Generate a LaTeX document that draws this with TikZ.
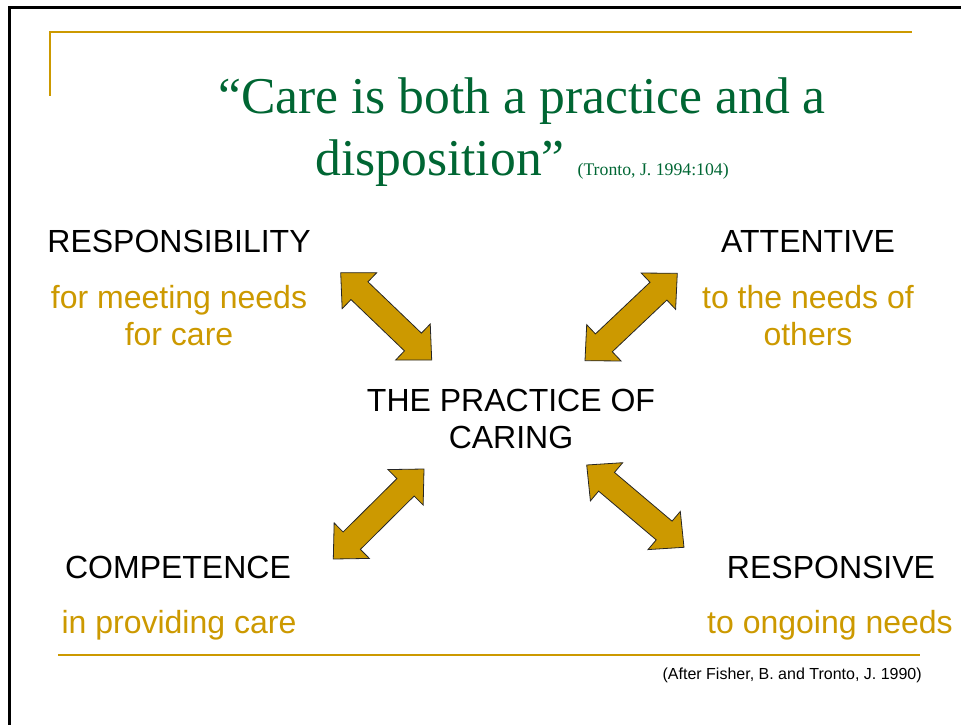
\documentclass[tikz,border=0pt]{standalone}
\usepackage{fontspec}
\setmainfont{Liberation Sans}
\newfontfamily\quotefont{Liberation Serif}
\usetikzlibrary{calc}
\definecolor{caregold}{RGB}{204,153,0}
\definecolor{quotegreen}{RGB}{0,102,51}
\newcommand{\twowayarrow}[2]% first tip, second tip
{(#1) -- ($(#1)!19.5pt!(#2)!18.75pt!90:(#2)$) -- ($(#1)!19.5pt!(#2)!9.2pt!90:(#2)$)
 -- ($(#2)!19.5pt!(#1)!9.2pt!-90:(#1)$) -- ($(#2)!19.5pt!(#1)!18.75pt!-90:(#1)$)
 -- (#2) -- ($(#2)!19.5pt!(#1)!18.75pt!90:(#1)$) -- ($(#2)!19.5pt!(#1)!9.2pt!90:(#1)$)
 -- ($(#1)!19.5pt!(#2)!9.2pt!-90:(#2)$) -- ($(#1)!19.5pt!(#2)!18.75pt!-90:(#2)$) -- cycle
}

\begin{document}
\begin{tikzpicture}[x=0.75pt,y=-0.75pt,
  heading/.style={font=\fontsize{24}{27.75}\selectfont, anchor=base, align=center, inner sep=0pt},
  gloss/.style={heading, text=caregold},
  arrowbody/.style={fill=caregold, draw=black!85, line width=0.6pt, line join=miter},
  rule/.style={caregold, line width=1.6pt}]
\useasboundingbox (0,0) rectangle (961,725);
% frame and gold rules
\draw[line width=2pt] (9.7,740) -- (9.7,7.8) -- (980,7.8);
\draw[rule] (49.8,95.5) -- (49.8,32) -- (912,32);
\draw[rule] (58,655) -- (920,655);
% title (base sits on the last line)
\node[anchor=base, align=center, inner sep=0pt, text=quotegreen, font=\quotefont\fontsize{38.7}{46.5}\selectfont] (quote) at (522,175)
  {“Care is both a practice and a\\disposition” {\fontsize{13.3}{16}\selectfont (Tronto, J. 1994:104)}};
% the four sides of caring
\node[heading] (resp) at (179,252) {RESPONSIBILITY};
\node[gloss] (respfor) at (179,345) {for meeting needs\\for care};
\node[heading] (att) at (808,252) {ATTENTIVE};
\node[gloss] (attto) at (808,345) {to the needs of\\others};
\node[heading] (practice) at (511,448) {THE PRACTICE OF\\CARING};
\node[heading] (comp) at (178,578) {COMPETENCE};
\node[gloss] (compin) at (179,633) {in providing care};
\node[heading] (rspv) at (831,578) {RESPONSIVE};
\node[gloss] (rspvto) at (830,633) {to ongoing needs};
\node[anchor=base east, inner sep=0pt, font=\fontsize{12}{14}\selectfont] (source) at (922,679) {(After Fisher, B. and Tronto, J. 1990)};
% arrow ends
\coordinate (nw1) at (340.7,272.7); \coordinate (nw2) at (431.7,360);
\coordinate (ne1) at (677.3,273.3); \coordinate (ne2) at (585,360.7);
\coordinate (sw1) at (424,469);     \coordinate (sw2) at (333.3,559);
\coordinate (se1) at (586.7,465);   \coordinate (se2) at (684,547.3);
\draw[arrowbody] \twowayarrow{nw1}{nw2};
\draw[arrowbody] \twowayarrow{ne1}{ne2};
\draw[arrowbody] \twowayarrow{sw1}{sw2};
\draw[arrowbody] \twowayarrow{se1}{se2};
\end{tikzpicture}
\end{document}
